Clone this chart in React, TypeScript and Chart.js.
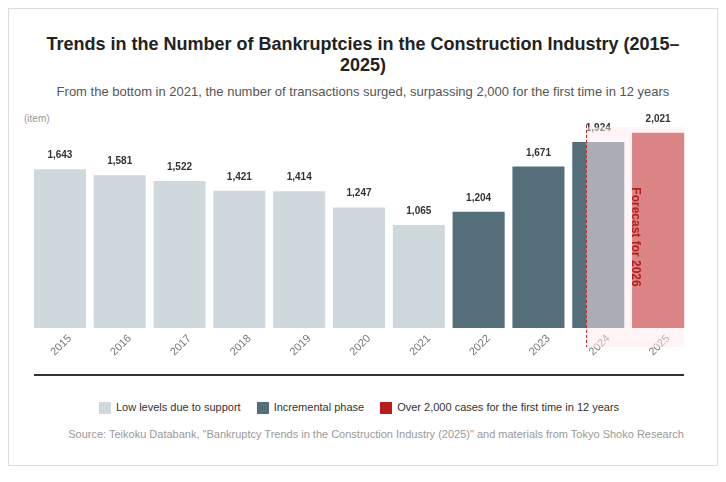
import React, { useEffect, useRef } from "react";
import { Chart, registerables } from "chart.js";

Chart.register(...registerables);

const FONT = "'Liberation Sans', Arial, Helvetica, sans-serif";

const categories = ["2015", "2016", "2017", "2018", "2019", "2020", "2021", "2022", "2023", "2024", "2025"];
const values = [1643, 1581, 1522, 1421, 1414, 1247, 1065, 1204, 1671, 1924, 2021];
const phases = ["low", "low", "low", "low", "low", "low", "low", "inc", "inc", "inc", "high"];
const legendKeys = ["low", "inc", "high"];
const legendLabels = [
  "Low levels due to support",
  "Incremental phase",
  "Over 2,000 cases for the first time in 12 years",
];
const forecastLabel = "Forecast for 2026";
const forecastIndex = 9;

const phaseColors: Record<string, string> = {
  low: "#cfd8dc",
  inc: "#546e7a",
  high: "#b71c1c",
};

const overlayPlugin = {
  id: "overlayPlugin",
  afterDatasetsDraw(chart: any) {
    const ctx = chart.ctx;
    const meta = chart.getDatasetMeta(0);
    const xs = chart.scales.x;
    const area = chart.chartArea;
    ctx.save();
    // value labels
    ctx.font = `bold 10px ${FONT}`;
    ctx.fillStyle = "#333333";
    ctx.textAlign = "center";
    ctx.textBaseline = "alphabetic";
    meta.data.forEach((bar: any, i: number) => {
      ctx.fillText(values[i].toLocaleString("en-US"), bar.x, bar.y - 11);
    });
    // forecast overlay
    const step = xs.getPixelForValue(1) - xs.getPixelForValue(0);
    const left = xs.getPixelForValue(forecastIndex) - 0.2 * step;
    const last = meta.data[meta.data.length - 1];
    const right = last.x + last.width / 2;
    const top = area.top;
    const bottom = area.bottom + 19;
    ctx.fillStyle = "rgba(255,235,238,0.5)";
    ctx.fillRect(left, top, right - left, bottom - top);
    // dashed line
    ctx.strokeStyle = "#c62828";
    ctx.lineWidth = 1;
    ctx.setLineDash([3, 2]);
    ctx.beginPath();
    const lx = Math.round(left) + 0.5;
    ctx.moveTo(lx, top - 2);
    ctx.lineTo(lx, bottom);
    ctx.stroke();
    ctx.setLineDash([]);
    // vertical text
    ctx.translate((left + right) / 2, (top + bottom) / 2);
    ctx.rotate(Math.PI / 2);
    ctx.font = `bold 12px ${FONT}`;
    ctx.fillStyle = "#b71c1c";
    ctx.textAlign = "center";
    ctx.textBaseline = "middle";
    ctx.fillText(forecastLabel, 0, 0);
    ctx.restore();
  },
};

function BarChart() {
  const ref = useRef<HTMLCanvasElement | null>(null);
  useEffect(() => {
    if (!ref.current) return;
    const chart = new Chart(ref.current, {
      type: "bar",
      data: {
        labels: categories,
        datasets: [
          {
            data: values,
            backgroundColor: phases.map((p) => phaseColors[p]),
            borderWidth: 0,
            categoryPercentage: 1,
            barPercentage: 0.87,
          },
        ],
      },
      options: {
        responsive: false,
        animation: false,
        layout: { padding: { left: 10, right: 12, top: 27, bottom: 0 } },
        plugins: {
          legend: { display: false },
          tooltip: { enabled: false },
          title: { display: false },
        },
        scales: {
          x: {
            grid: { display: false, drawTicks: false },
            border: { display: false },
            ticks: {
              maxRotation: 45,
              minRotation: 45,
              padding: 4,
              labelOffset: 10,
              color: "#777777",
              font: { family: FONT, size: 11 },
            },
            afterFit(scale: any) {
              scale.height = 32;
            },
          },
          y: {
            display: false,
            min: 0,
            max: 2080,
          },
        },
      },
      plugins: [overlayPlugin],
    });
    return () => chart.destroy();
  }, []);
  return <canvas ref={ref} width={680} height={260} style={{ display: "block" }} />;
}

export default function App() {
  return (
    <div
      style={{
        position: "relative",
        width: 710,
        height: 458,
        border: "1px solid #dddddd",
        boxSizing: "border-box",
        fontFamily: FONT,
        background: "#ffffff",
      }}
    >
      <div
        style={{
          position: "absolute",
          left: 25,
          width: 658,
          top: 25,
          textAlign: "center",
          fontWeight: "bold",
          fontSize: 18,
          lineHeight: "21px",
          color: "#222222",
        }}
      >
        Trends in the Number of Bankruptcies in the Construction Industry (2015–2025)
      </div>
      <div
        style={{
          position: "absolute",
          left: 0,
          width: 708,
          top: 75,
          textAlign: "center",
          fontSize: 13,
          lineHeight: "15px",
          color: "#555555",
        }}
      >
        From the bottom in 2021, the number of transactions surged, surpassing 2,000 for the first time in 12 years
      </div>
      <div
        style={{
          position: "absolute",
          left: 15,
          top: 104,
          fontSize: 10,
          lineHeight: "12px",
          color: "#999999",
        }}
      >
        (item)
      </div>
      <div style={{ position: "absolute", left: 11, top: 91 }}>
        <BarChart />
      </div>
      <div
        style={{
          position: "absolute",
          left: 25,
          top: 365,
          width: 650,
          borderTop: "2px solid #333333",
        }}
      >
        <div
          style={{
            display: "flex",
            justifyContent: "center",
            alignItems: "center",
            gap: 16,
            marginTop: 25,
            height: 13,
          }}
        >
          {legendKeys.map((k, i) => (
            <div key={k} style={{ display: "flex", alignItems: "center" }}>
              <span
                style={{
                  display: "inline-block",
                  width: 12,
                  height: 12,
                  background: phaseColors[k],
                  marginRight: 5,
                }}
              />
              <span style={{ fontSize: 11, color: "#333333", lineHeight: "13px" }}>{legendLabels[i]}</span>
            </div>
          ))}
        </div>
        <div
          style={{
            textAlign: "right",
            fontSize: 11,
            lineHeight: "13px",
            color: "#999999",
            marginTop: 14,
          }}
        >
          Source: Teikoku Databank, "Bankruptcy Trends in the Construction Industry (2025)" and materials from Tokyo Shoko Research
        </div>
      </div>
    </div>
  );
}
